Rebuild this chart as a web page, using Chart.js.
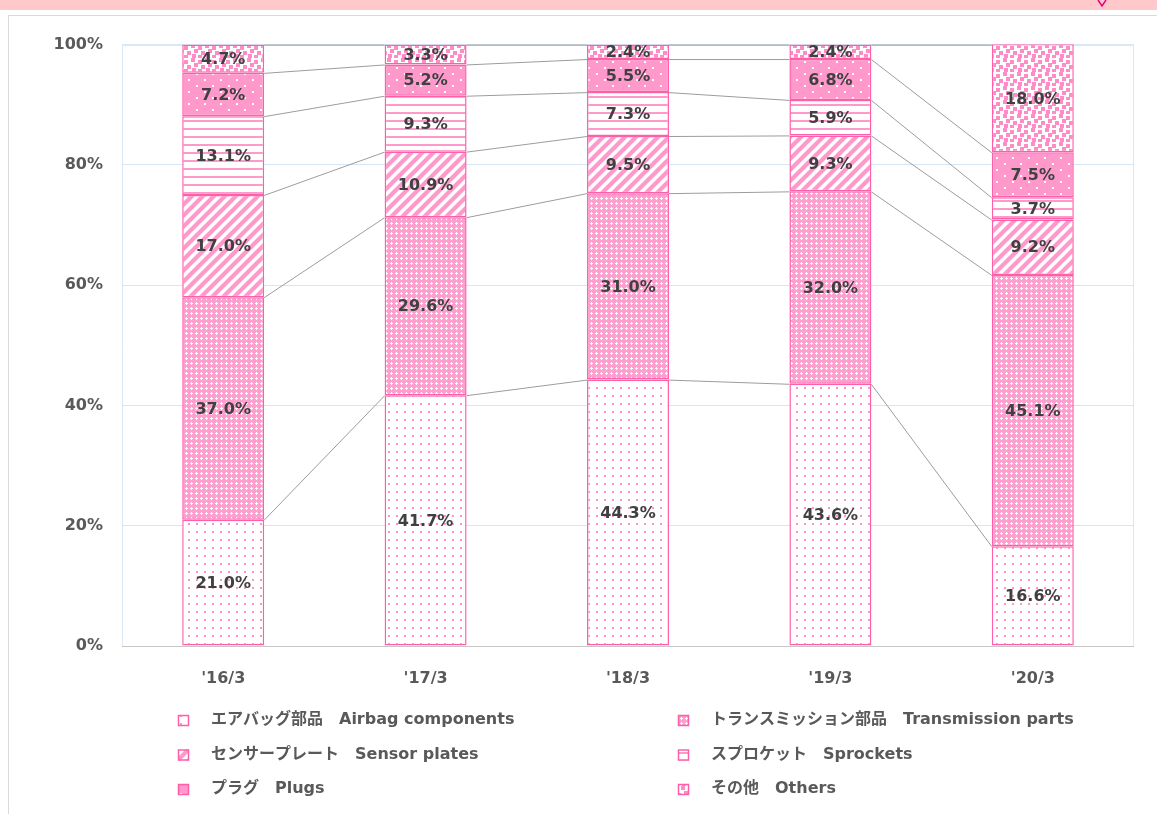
<!DOCTYPE html>
<html>
<head>
<meta charset="utf-8">
<script src="https://cdn.jsdelivr.net/npm/chart.js@4/dist/chart.umd.min.js"></script>
<style>
  html, body { margin: 0; padding: 0; background: #fff; overflow: hidden; }
  #band { position: absolute; left: 0; top: 0; width: 1157px; height: 10px; background: #ffc9cc; }
  #mark { position: absolute; left: 1097px; top: 0; }
  #card { position: absolute; left: 8px; top: 15px; width: 1160px; height: 810px;
          border-left: 1px solid #d9d9d9; border-top: 1px solid #d9d9d9; }
  #wrap { position: absolute; left: 0; top: 0; width: 1148px; height: 798px; }
</style>
</head>
<body>
<div id="band"></div>
<svg id="mark" width="14" height="8"><polyline points="1,0 5,6 9,0" fill="none" stroke="#e4007f" stroke-width="1.5"/></svg>
<div id="card"><div id="wrap"><canvas id="chart"></canvas></div></div>
<script>
const categories = ["'16/3", "'17/3", "'18/3", "'19/3", "'20/3"];
const airbag = [21.0, 41.7, 44.3, 43.6, 16.6];
const transmission = [37.0, 29.6, 31.0, 32.0, 45.1];
const sensor = [17.0, 10.9, 9.5, 9.3, 9.2];
const sprockets = [13.1, 9.3, 7.3, 5.9, 3.7];
const plugs = [7.2, 5.2, 5.5, 6.8, 7.5];
const others = [4.7, 3.3, 2.4, 2.4, 18.0];
const seriesNames = [
  'エアバッグ部品　Airbag components',
  'トランスミッション部品　Transmission parts',
  'センサープレート　Sensor plates',
  'スプロケット　Sprockets',
  'プラグ　Plugs',
  'その他　Others'
];
const yTickValues = [0, 20, 40, 60, 80, 100];

const PINK = '#ff99cc';
const EDGE = '#ff5fa9';
const FONT = '"DejaVu Sans", "Noto Sans CJK JP", sans-serif';

const ctx = document.getElementById('chart').getContext('2d');

function makePattern(w, h, draw) {
  const c = document.createElement('canvas');
  c.width = w;
  c.height = h;
  const g = c.getContext('2d');
  draw(g);
  return ctx.createPattern(c, 'repeat');
}

// one fill per series, same order as seriesNames
const fills = [
  makePattern(8, 8, g => {
    g.fillStyle = '#fff'; g.fillRect(0, 0, 8, 8);
    g.fillStyle = '#ff94c9'; g.fillRect(3, 3, 2, 2);
  }),
  makePattern(5, 5, g => {
    g.fillStyle = '#ff9fcf'; g.fillRect(0, 0, 5, 5);
    g.fillStyle = '#fff';
    g.fillRect(2, 1, 1, 3); g.fillRect(1, 2, 3, 1);
  }),
  makePattern(11, 11, g => {
    g.fillStyle = '#fff'; g.fillRect(0, 0, 11, 11);
    g.strokeStyle = PINK; g.lineWidth = 4.2;
    [[0, 11, 11, 0], [-5.5, 5.5, 5.5, -5.5], [5.5, 16.5, 16.5, 5.5]].forEach(l => {
      g.beginPath(); g.moveTo(l[0], l[1]); g.lineTo(l[2], l[3]); g.stroke();
    });
  }),
  makePattern(8, 8, g => {
    g.fillStyle = '#fff'; g.fillRect(0, 0, 8, 8);
    g.fillStyle = PINK; g.fillRect(0, 0, 8, 2);
  }),
  makePattern(16, 12, g => {
    g.fillStyle = PINK; g.fillRect(0, 0, 16, 12);
    g.fillStyle = '#fff'; g.fillRect(3, 3, 2, 2); g.fillRect(11, 9, 2, 2);
  }),
  makePattern(14, 14, g => {
    g.fillStyle = '#fff'; g.fillRect(0, 0, 14, 14);
    g.fillStyle = '#ff8cc6';
    [[0, 0], [7, 2], [3, 5], [10, 7], [1, 10], [7, 11]].forEach(p => g.fillRect(p[0], p[1], 4, 4));
  })
];

const seriesValues = [airbag, transmission, sensor, sprockets, plugs, others];

const frame = {
  id: 'frame',
  beforeDatasetsDraw(chart) {
    const a = chart.chartArea;
    const c = chart.ctx;
    c.save();
    c.strokeStyle = '#dbe8f5';
    c.lineWidth = 1;
    c.beginPath();
    c.moveTo(Math.round(a.left) + 0.5, a.bottom);
    c.lineTo(Math.round(a.left) + 0.5, Math.round(a.top) + 0.5);
    c.lineTo(Math.round(a.right) - 0.5, Math.round(a.top) + 0.5);
    c.lineTo(Math.round(a.right) - 0.5, a.bottom);
    c.stroke();
    c.restore();
  }
};

// gray series lines joining each stacked boundary between neighbouring bars
const seriesLines = {
  id: 'seriesLines',
  afterDatasetsDraw(chart) {
    const c = chart.ctx;
    c.save();
    c.strokeStyle = '#9c9c9c';
    c.lineWidth = 1;
    chart.data.datasets.forEach((ds, d) => {
      const bars = chart.getDatasetMeta(d).data;
      for (let i = 0; i < bars.length - 1; i++) {
        const a = bars[i], b = bars[i + 1];
        const ya = Math.max(a.y, chart.chartArea.top), yb = Math.max(b.y, chart.chartArea.top);
        c.beginPath();
        c.moveTo(a.x + a.width / 2, ya + 0.5);
        c.lineTo(b.x - b.width / 2, yb + 0.5);
        c.stroke();
      }
    });
    c.restore();
  }
};

const barLabels = {
  id: 'barLabels',
  afterDatasetsDraw(chart) {
    const c = chart.ctx;
    c.save();
    c.font = 'bold 16px ' + FONT;
    c.fillStyle = '#404040';
    c.textAlign = 'center';
    c.textBaseline = 'middle';
    chart.data.datasets.forEach((ds, d) => {
      chart.getDatasetMeta(d).data.forEach((bar, i) => {
        const top = Math.max(bar.y, chart.chartArea.top);
        c.fillText(ds.data[i].toFixed(1) + '%', bar.x, (top + bar.base) / 2 + 1);
      });
    });
    c.restore();
  }
};

// two-column legend under the axis
const gridLegend = {
  id: 'gridLegend',
  afterDraw(chart) {
    const a = chart.chartArea;
    const c = chart.ctx;
    c.save();
    c.font = 'bold 16px ' + FONT;
    c.textBaseline = 'middle';
    chart.data.datasets.forEach((ds, d) => {
      const col = d % 2, row = Math.floor(d / 2);
      const mx = a.left + 56 + col * 500;
      const my = a.bottom + 74 + row * 34.5;
      c.fillStyle = ds.backgroundColor;
      c.fillRect(mx, my - 5, 11, 11);
      c.strokeStyle = EDGE;
      c.lineWidth = 1.5;
      c.strokeRect(mx + 0.5, my - 4.5, 10, 10);
      c.fillStyle = '#595959';
      c.fillText(ds.label, mx + 33, my);
    });
    c.restore();
  }
};

new Chart(ctx, {
  type: 'bar',
  data: {
    labels: categories,
    datasets: seriesValues.map((vals, d) => ({
      label: seriesNames[d],
      data: vals,
      backgroundColor: fills[d],
      borderColor: EDGE,
      borderWidth: 1.5,
      borderSkipped: false,
      categoryPercentage: 1,
      barPercentage: 0.405
    }))
  },
  options: {
    responsive: true,
    maintainAspectRatio: false,
    animation: false,
    layout: { padding: { left: 0, right: 23, top: 28, bottom: 118 } },
    plugins: { legend: { display: false }, tooltip: { enabled: false } },
    scales: {
      x: {
        stacked: true,
        grid: { display: false },
        border: { display: false },
        ticks: { color: '#595959', padding: 15, font: { family: FONT, size: 16, weight: 'bold' } },
        afterFit(scale) { scale.height = 50; }
      },
      y: {
        stacked: true,
        min: 0,
        max: 100,
        afterBuildTicks(scale) { scale.ticks = yTickValues.map(v => ({ value: v })); },
        grid: {
          drawTicks: false,
          color: c => (c.tick && c.tick.value === 0 ? '#c8c8c8' : '#d6e6f5')
        },
        border: { display: false },
        ticks: {
          color: '#595959',
          padding: 19,
          font: { family: FONT, size: 16, weight: 'bold' },
          callback: v => v + '%'
        },
        afterFit(scale) { scale.width = 113; }
      }
    }
  },
  plugins: [frame, seriesLines, barLabels, gridLegend]
});
</script>
</body>
</html>
